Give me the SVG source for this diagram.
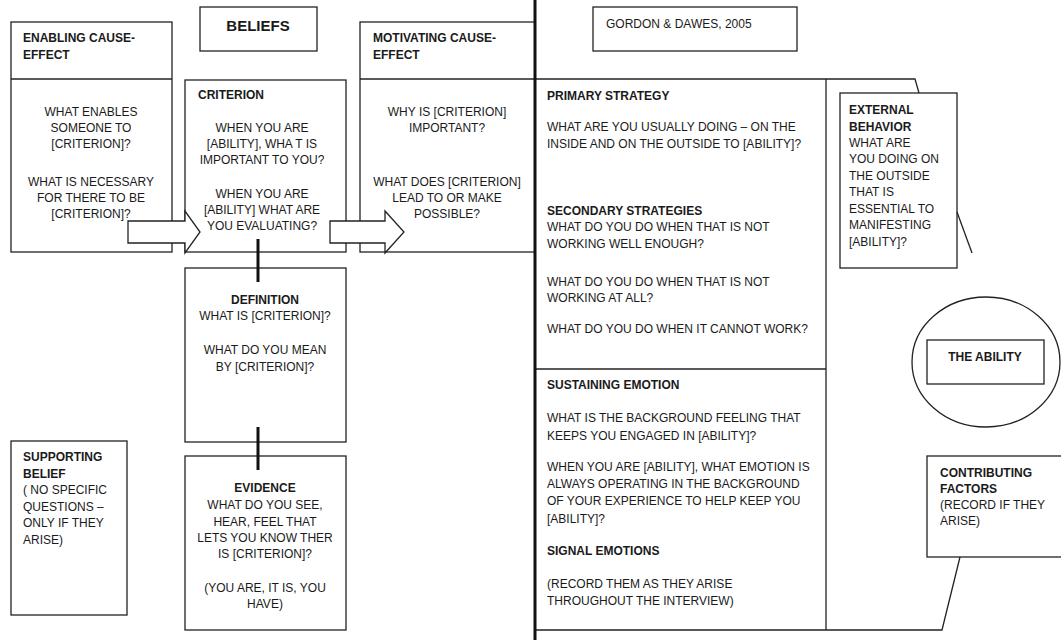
<svg xmlns="http://www.w3.org/2000/svg" width="1061" height="640" viewBox="0 0 1061 640">
<style>
.bx{fill:none;stroke:#222;stroke-width:1.3}
.wb{fill:#fff;stroke:#222;stroke-width:1.3}
.ln{fill:none;stroke:#222;stroke-width:1.3}
.thick{fill:none;stroke:#111;stroke-width:3}
text{font-family:"Liberation Sans",Arial,sans-serif;font-size:12px;fill:#1a1a1a}
.b{font-weight:bold}
.c{text-anchor:middle}
.big{font-size:15px;font-weight:bold}
</style>
<rect width="1061" height="640" fill="#fff"/>

<g id="beliefs">
<rect class="bx" x="200" y="7" width="117" height="44"/>
<text class="big c" x="258" y="31">BELIEFS</text>
</g>

<g id="gordon">
<rect class="bx" x="593" y="7" width="204" height="44"/>
<text x="606" y="28">GORDON &amp; DAWES, 2005</text>
</g>

<g id="enabling">
<rect class="bx" x="11" y="22" width="161" height="230"/>
<line class="ln" x1="11" y1="79" x2="172" y2="79"/>
<text class="b" x="23" y="42">ENABLING CAUSE-</text>
<text class="b" x="23" y="59">EFFECT</text>
<text class="c" x="91" y="116">WHAT ENABLES</text>
<text class="c" x="91" y="132">SOMEONE TO</text>
<text class="c" x="91" y="148">[CRITERION]?</text>
<text class="c" x="91" y="186">WHAT IS NECESSARY</text>
<text class="c" x="91" y="202">FOR THERE TO BE</text>
<text class="c" x="91" y="218">[CRITERION]?</text>
</g>

<g id="criterion">
<rect class="bx" x="185" y="80" width="161" height="172"/>
<text class="b" x="198" y="99">CRITERION</text>
<text class="c" x="262" y="132">WHEN YOU ARE</text>
<text class="c" x="262" y="148">[ABILITY], WHA T IS</text>
<text class="c" x="262" y="164">IMPORTANT TO YOU?</text>
<text class="c" x="262" y="198">WHEN YOU ARE</text>
<text class="c" x="262" y="214">[ABILITY] WHAT ARE</text>
<text class="c" x="262" y="230">YOU EVALUATING?</text>
</g>

<g id="motivating">
<rect class="bx" x="360" y="22" width="175" height="230"/>
<line class="ln" x1="360" y1="79" x2="535" y2="79"/>
<text class="b" x="373" y="42">MOTIVATING  CAUSE-</text>
<text class="b" x="373" y="59">EFFECT</text>
<text class="c" x="447" y="116">WHY IS [CRITERION]</text>
<text class="c" x="447" y="132">IMPORTANT?</text>
<text class="c" x="447" y="186">WHAT DOES [CRITERION]</text>
<text class="c" x="447" y="202">LEAD TO OR MAKE</text>
<text class="c" x="447" y="218">POSSIBLE?</text>
</g>

<g id="definition">
<rect class="bx" x="185" y="268" width="161" height="174"/>
<text class="b c" x="265" y="304">DEFINITION</text>
<text class="c" x="265" y="320">WHAT IS [CRITERION]?</text>
<text class="c" x="265" y="354">WHAT DO YOU MEAN</text>
<text class="c" x="265" y="371">BY [CRITERION]?</text>
</g>

<g id="evidence">
<rect class="bx" x="185" y="456" width="161" height="174"/>
<text class="b c" x="265" y="492">EVIDENCE</text>
<text class="c" x="265" y="509">WHAT DO YOU SEE,</text>
<text class="c" x="265" y="526">HEAR, FEEL THAT</text>
<text class="c" x="265" y="542">LETS YOU KNOW THER</text>
<text class="c" x="265" y="558">IS [CRITERION]?</text>
<text class="c" x="265" y="592">(YOU ARE, IT IS, YOU</text>
<text class="c" x="265" y="608">HAVE)</text>
</g>

<g id="supporting">
<rect class="bx" x="11" y="441" width="116" height="174"/>
<text class="b" x="23" y="461">SUPPORTING</text>
<text class="b" x="23" y="478">BELIEF</text>
<text x="23" y="494">( NO SPECIFIC</text>
<text x="23" y="511">QUESTIONS –</text>
<text x="23" y="527">ONLY IF THEY</text>
<text x="23" y="544">ARISE)</text>
</g>

<g id="strategy">
<path class="ln" d="M535 79 H915 L919 93"/>
<line class="ln" x1="826" y1="79" x2="826" y2="630"/>
<line class="ln" x1="535" y1="369" x2="826" y2="369"/>
<text class="b" x="547" y="100">PRIMARY STRATEGY</text>
<text x="547" y="131">WHAT ARE YOU USUALLY DOING – ON THE</text>
<text x="547" y="148">INSIDE AND ON THE OUTSIDE TO [ABILITY]?</text>
<text class="b" x="547" y="215">SECONDARY STRATEGIES</text>
<text x="547" y="231">WHAT DO YOU DO WHEN THAT IS NOT</text>
<text x="547" y="248">WORKING WELL ENOUGH?</text>
<text x="547" y="286">WHAT DO YOU DO WHEN THAT IS NOT</text>
<text x="547" y="302">WORKING AT ALL?</text>
<text x="547" y="333">WHAT DO YOU DO WHEN IT CANNOT WORK?</text>
</g>

<g id="emotion">
<path class="ln" d="M535 630 H942 L960 557"/>
<text class="b" x="547" y="389">SUSTAINING EMOTION</text>
<text x="547" y="422">WHAT IS THE BACKGROUND FEELING THAT</text>
<text x="547" y="440">KEEPS YOU ENGAGED IN [ABILITY]?</text>
<text x="547" y="471">WHEN YOU ARE [ABILITY], WHAT EMOTION IS</text>
<text x="547" y="488">ALWAYS OPERATING IN THE BACKGROUND</text>
<text x="547" y="505">OF YOUR EXPERIENCE TO HELP KEEP YOU</text>
<text x="547" y="523">[ABILITY]?</text>
<text class="b" x="547" y="555">SIGNAL EMOTIONS</text>
<text x="547" y="588">(RECORD THEM AS THEY ARISE</text>
<text x="547" y="605">THROUGHOUT THE INTERVIEW)</text>
</g>

<g id="external">
<rect class="bx" x="840" y="93" width="117" height="175"/>
<line class="ln" x1="957" y1="212" x2="972" y2="253"/>
<text class="b" x="849" y="114">EXTERNAL</text>
<text class="b" x="849" y="131">BEHAVIOR</text>
<text x="849" y="147">WHAT ARE</text>
<text x="849" y="163">YOU DOING ON</text>
<text x="849" y="180">THE OUTSIDE</text>
<text x="849" y="196">THAT IS</text>
<text x="849" y="213">ESSENTIAL TO</text>
<text x="849" y="229">MANIFESTING</text>
<text x="849" y="246">[ABILITY]?</text>
</g>

<g id="ability">
<ellipse class="bx" cx="986" cy="362" rx="74" ry="65"/>
<rect class="bx" x="927" y="340" width="117" height="44"/>
<text class="b c" x="985" y="361">THE ABILITY</text>
</g>

<g id="contributing">
<rect class="bx" x="927" y="456" width="140" height="101"/>
<text class="b" x="940" y="477">CONTRIBUTING</text>
<text class="b" x="940" y="493">FACTORS</text>
<text x="940" y="509">(RECORD IF THEY</text>
<text x="940" y="525">ARISE)</text>
</g>

<g id="connectors">
<line class="thick" x1="535" y1="0" x2="535" y2="640"/>
<path class="wb" d="M128 221 H185 V211 L200 232 L185 253 V243 H128 Z"/>
<path class="wb" d="M330 221 H385 V211 L404 232 L385 253 V243 H330 Z"/>
<line class="thick" x1="258" y1="239" x2="258" y2="282"/>
<line class="thick" x1="258" y1="427" x2="258" y2="470"/>
</g>
</svg>
